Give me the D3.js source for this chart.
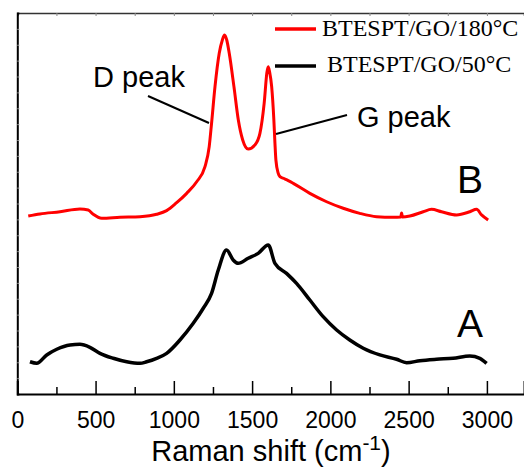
<!DOCTYPE html>
<html><head><meta charset="utf-8">
<script src="https://cdn.jsdelivr.net/npm/d3@7"></script>
<style>
html,body{margin:0;padding:0;background:#fff;}
svg{display:block;}
</style></head>
<body>
<svg id="chart" width="524" height="468"></svg>
<script>
// Raman shift (cm-1) and intensity (a.u., stacked)
const seriesNames = ["BTESPT/GO/180°C", "BTESPT/GO/50°C"];
const seriesColors = ["#ff0000", "#000000"];

const redShift = [70,145,273,400,453,485,539,656,784,890,954,1018,1082,1146,1199,1226,1241,1263,1290,1310,1324,1338,1354,1384,1412,1440,1475,1518,1550,1577,1595,1603,1612,1625,1639,1646,1652,1667,1678,1699,1731,1763,1869,1976,2082,2188,2295,2401,2450,2455,2460,2508,2593,2646,2710,2806,2891,2934,2966,3008];
const redInt   = [11.21,11.34,11.48,11.65,11.59,11.32,11.07,11.13,11.17,11.32,11.55,12.05,12.64,13.37,14.32,15.58,17.05,19.36,21.46,22.3,22.61,22.3,21.46,19.36,17.26,16.00,15.43,15.69,16.42,18.31,20.28,20.62,20.28,19.36,17.26,15.79,14.74,13.90,13.69,13.59,13.44,13.27,12.64,12.11,11.70,11.38,11.17,11.13,11.15,11.40,11.15,11.21,11.48,11.63,11.48,11.28,11.48,11.63,11.28,10.96];

const blackShift = [81,124,188,252,337,400,464,528,613,699,784,826,890,954,1039,1124,1188,1241,1284,1337,1379,1411,1475,1539,1603,1646,1720,1784,1869,1954,2040,2124,2210,2316,2423,2487,2572,2678,2784,2891,2955,2998];
const blackInt   = [2.03,1.93,2.46,2.82,3.09,3.13,2.94,2.56,2.25,2.03,1.93,2.03,2.25,2.56,3.40,4.45,5.40,6.34,7.81,9.07,8.44,8.23,8.55,8.86,9.39,8.23,7.60,6.97,5.92,4.87,4.03,3.40,2.88,2.46,2.19,1.97,2.10,2.19,2.25,2.39,2.25,1.93];

const xMajorTicks = [0,500,1000,1500,2000,2500,3000];
const xMinorTicks = [250,750,1250,1750,2250,2750];
const xLabel = "Raman shift (cm";
const xLabelSup = "-1";
const curveLabels = ["B", "A"];
const peakLabels = ["D peak", "G peak"];

const svg = d3.select("#chart");
const x = d3.scaleLinear().domain([0, 3237]).range([17.3, 524]);
const y = d3.scaleLinear().domain([0, 24]).range([394, 13]);

// top axis
const topAx = svg.append("g").attr("transform","translate(0,13)")
  .call(d3.axisTop(x).tickValues(d3.range(0,3250,250)).tickSize(-3).tickFormat(""));
topAx.select(".domain").attr("stroke","#333").attr("stroke-width",1.5);
topAx.selectAll(".tick line").attr("stroke","#888");

// left axis (minor ticks only)
const leftAx = svg.append("g").attr("transform","translate(17.3,0)")
  .call(d3.axisLeft(y).tickValues(d3.range(1,24,1)).tickSize(-2).tickFormat(""));
leftAx.select(".domain").attr("stroke","#000").attr("stroke-width",2);
leftAx.selectAll(".tick line").attr("stroke","#999");

// bottom axis
const botAx = svg.append("g").attr("transform","translate(0,394)")
  .call(d3.axisBottom(x).tickValues(xMajorTicks).tickSize(-13).tickPadding(18).tickFormat(d3.format("d")));
botAx.select(".domain").attr("stroke","#000").attr("stroke-width",2);
botAx.selectAll(".tick line").attr("stroke","#000").attr("stroke-width",1.5);
botAx.selectAll(".tick text").attr("font-family","'Liberation Sans', Arial, sans-serif").attr("font-size",23).attr("fill","#000");
svg.append("g").attr("transform","translate(0,394)")
  .call(d3.axisBottom(x).tickValues(xMinorTicks).tickSize(-7).tickFormat(""))
  .call(g => g.select(".domain").remove())
  .selectAll(".tick line").attr("stroke","#000").attr("stroke-width",1.5);

// x label
const xl = svg.append("text").attr("x", 271).attr("y", 461).attr("text-anchor","middle")
  .attr("font-family","'Liberation Sans', Arial, sans-serif").attr("font-size",29).attr("fill","#000");
xl.append("tspan").text(xLabel);
xl.append("tspan").attr("dy",-11).attr("font-size",21).text(xLabelSup);
xl.append("tspan").attr("dy",11).text(")");

// curves
const line = d3.line().x(d => x(d[0])).y(d => y(d[1])).curve(d3.curveMonotoneX);
const redData = redShift.map((s,i)=>[s, redInt[i]]);
const blackData = blackShift.map((s,i)=>[s, blackInt[i]]);
svg.append("path").datum(blackData).attr("d", line).attr("fill","none")
  .attr("stroke", seriesColors[1]).attr("stroke-width",3.5).attr("stroke-linejoin","round");
svg.append("path").datum(redData).attr("d", line).attr("fill","none")
  .attr("stroke", seriesColors[0]).attr("stroke-width",3).attr("stroke-linejoin","round");

// legend
const legY = [29, 66], legTx = [322, 327], legBase = [36, 72];
seriesNames.forEach((n,i)=>{
  svg.append("line").attr("x1",275).attr("x2",316).attr("y1",legY[i]).attr("y2",legY[i])
    .attr("stroke",seriesColors[i]).attr("stroke-width",3.5);
  svg.append("text").attr("x",legTx[i]).attr("y",legBase[i])
    .attr("font-family","'Liberation Serif','Times New Roman',serif").attr("font-size",24)
    .attr("fill","#000").text(n);
});

// peak annotations
svg.append("text").attr("x",93).attr("y",87).attr("font-family","'Liberation Sans', Arial, sans-serif")
  .attr("font-size",29).attr("fill","#000").text(peakLabels[0]);
svg.append("line").attr("x1",148).attr("y1",96).attr("x2",209).attr("y2",123).attr("stroke","#000").attr("stroke-width",2);
svg.append("text").attr("x",357).attr("y",127).attr("font-family","'Liberation Sans', Arial, sans-serif")
  .attr("font-size",29).attr("fill","#000").text(peakLabels[1]);
svg.append("line").attr("x1",276).attr("y1",134).attr("x2",347).attr("y2",115).attr("stroke","#000").attr("stroke-width",2);

// curve labels
svg.append("text").attr("x",457).attr("y",193).attr("font-family","'Liberation Sans', Arial, sans-serif")
  .attr("font-size",39).attr("fill","#000").text(curveLabels[0]);
svg.append("text").attr("x",457).attr("y",337).attr("font-family","'Liberation Sans', Arial, sans-serif")
  .attr("font-size",39).attr("fill","#000").text(curveLabels[1]);
</script>
</body></html>
